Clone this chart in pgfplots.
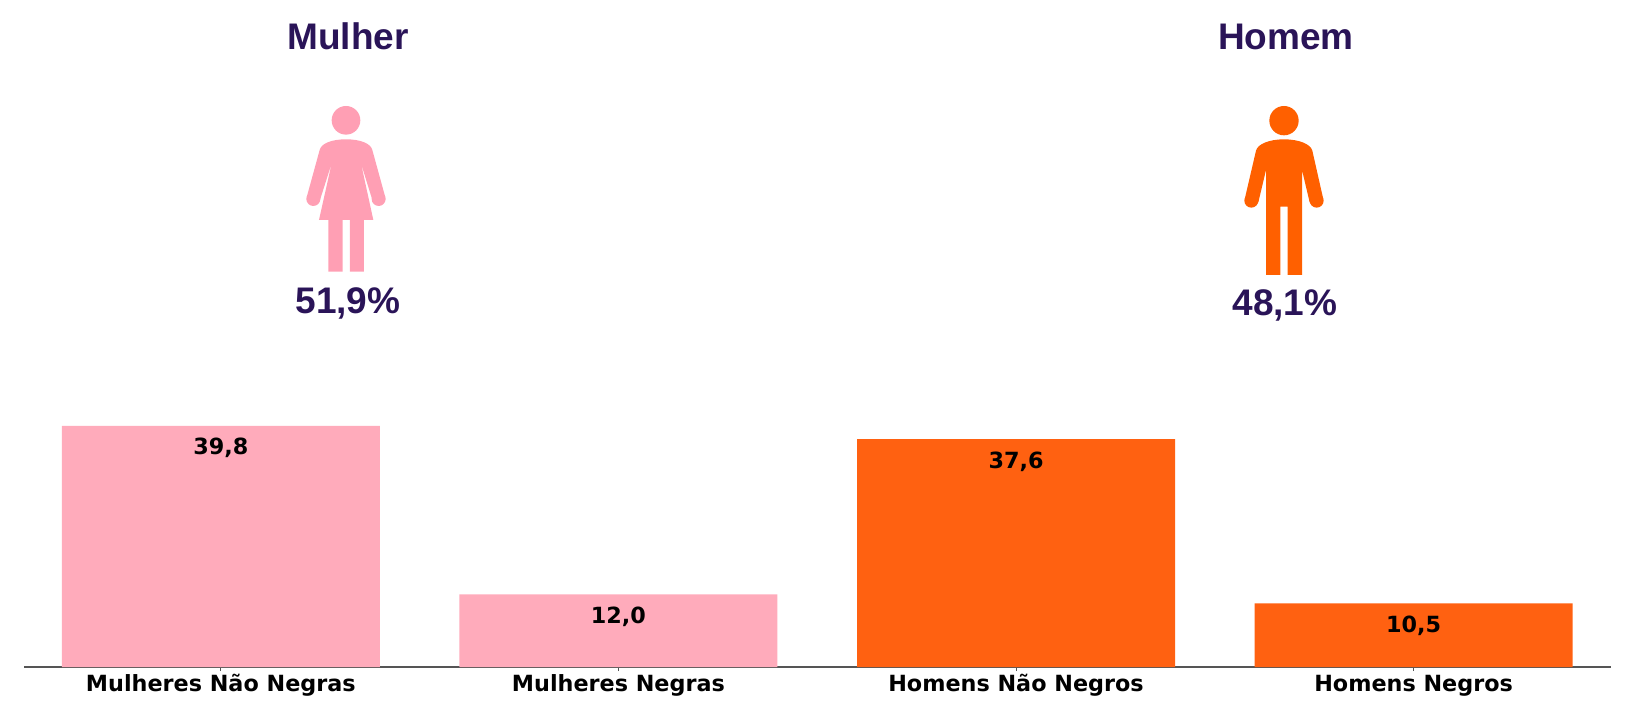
\documentclass[border=0pt]{standalone}
\usepackage{fontspec}
\setmainfont{DejaVu Sans}
\newfontfamily\arialb{Liberation Sans}[Scale=1]
\usepackage{pgfplots}
\pgfplotsset{compat=1.18}
\definecolor{pinkbar}{HTML}{FFABBB}
\definecolor{pinkicon}{HTML}{FF9FB4}
\definecolor{orangebar}{HTML}{FF6111}
\definecolor{orangeicon}{HTML}{FF6000}
\definecolor{titlepurple}{HTML}{2A1458}
\definecolor{axisgray}{HTML}{555555}
\begin{document}
\begin{tikzpicture}[x=1pt,y=1pt]
\path[use as bounding box] (0,0) rectangle (1629,724);
\begin{axis}[
  at={(24pt,57pt)}, anchor=south west,
  scale only axis, width=1587pt, height=667pt,
  xmin=-0.495, xmax=3.4965, ymin=0, ymax=110.07,
  ybar, bar width=318pt, bar shift=0pt,
  axis x line=bottom, axis y line=none,
  axis line style={-, axisgray, line width=1.3pt},
  xtick={0,1,2,3},
  xticklabels={Mulheres Não Negras, Mulheres Negras, Homens Não Negros, Homens Negros},
  x tick label style={font=\fontsize{22.3}{26}\selectfont\bfseries, text height=17pt, text depth=5pt, yshift=0pt},
  tick align=outside, major tick length=4pt,
  x tick style={axisgray, line width=1pt},
  nodes near coords={\pgfmathprintnumber[fixed,fixed zerofill,precision=1,use comma,assume math mode=true]{\pgfplotspointmeta}},
  nodes near coords style={font=\fontsize{22.3}{26}\selectfont\bfseries, text=black, anchor=north, yshift=-9pt},
]
\addplot[fill=pinkbar, draw=none] coordinates {(0,39.8) (1,12.0)};
\addplot[fill=orangebar, draw=none] coordinates {(2,37.6) (3,10.5)};
\end{axis}

\node[anchor=base, text=titlepurple, font=\arialb\fontsize{37}{41}\selectfont\bfseries] at (348,674) {Mulher};
\node[anchor=base, text=titlepurple, font=\arialb\fontsize{37}{41}\selectfont\bfseries] at (1286,674) {Homem};
\node[anchor=base, text=titlepurple, font=\arialb\fontsize{37}{41}\selectfont\bfseries] at (348,411) {51,9\%};
\node[anchor=base, text=titlepurple, font=\arialb\fontsize{37}{41}\selectfont\bfseries] at (1285,409) {48,1\%};

% woman pictogram (coordinates in 3x crop pixels)
\begin{scope}[shift={(250pt,724pt)}, x=0.3333pt, y=-0.3333pt, fill=pinkicon]
\fill (288,361) circle[radius=43];
\fill (288,418) .. controls (245,418) and (214,430) .. (209,450)
  -- (170,592) -- (209,603) -- (245,490) -- (207,660) -- (235,660) -- (235,815)
  -- (278,815) -- (278,660) -- (300,660) -- (300,815) -- (342,815) -- (342,660)
  -- (370,660) -- (333,490) -- (368,603) -- (406,592) -- (367,450)
  .. controls (362,430) and (331,418) .. (288,418) -- cycle;
\fill (190,597) circle[radius=21];
\fill (386,597) circle[radius=21];
\end{scope}

% man pictogram (coordinates in 3x crop pixels)
\begin{scope}[shift={(1180pt,724pt)}, x=0.3333pt, y=-0.3333pt, fill=orangeicon]
\fill (312,362) circle[radius=44];
\fill (312,418) .. controls (268,418) and (233,432) .. (228,452)
  -- (194,598) -- (235,607) -- (258,510) -- (258,825) -- (301,825) -- (301,620)
  -- (323,620) -- (323,825) -- (366,825) -- (366,510) -- (389,607) -- (430,598)
  -- (397,452) .. controls (392,432) and (356,418) .. (312,418) -- cycle;
\fill (214,602) circle[radius=21];
\fill (410,602) circle[radius=21];
\end{scope}
\end{tikzpicture}
\end{document}
